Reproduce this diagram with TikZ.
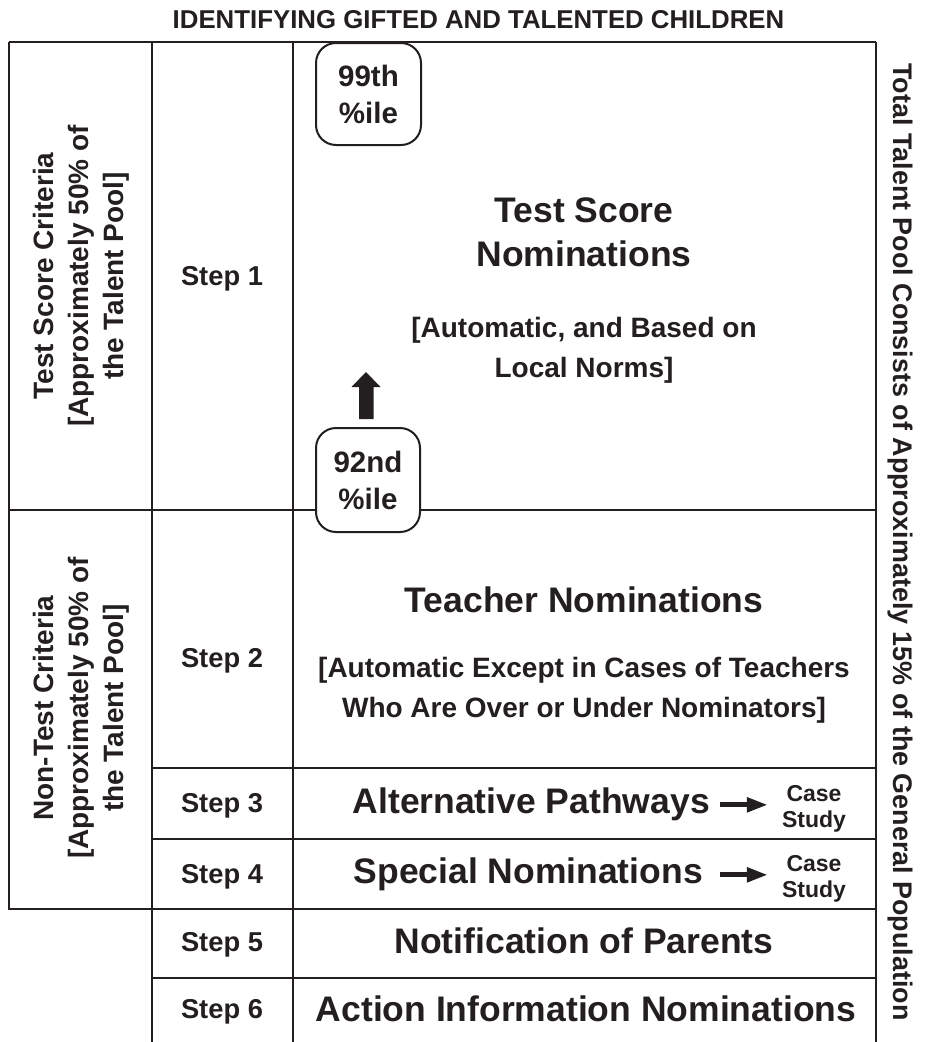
\documentclass[tikz,border=0pt]{standalone}
\usepackage{fontspec}
\setmainfont{Liberation Sans}
\usetikzlibrary{arrows.meta}
\definecolor{ink}{RGB}{35,31,32}
\begin{document}
\begin{tikzpicture}[x=1pt,y=-1pt,
  gridline/.style={draw=ink,line width=2.2pt},
  txt/.style={inner sep=0pt,text=ink},
  titlef/.style={txt,font=\fontsize{25.8}{30}\selectfont\bfseries},
  sidef/.style={txt,align=center,font=\fontsize{28}{35}\selectfont\bfseries},
  stepf/.style={txt,font=\fontsize{27.3}{32}\selectfont\bfseries},
  bigf/.style={txt,align=center,font=\fontsize{35.5}{44}\selectfont\bfseries},
  medf/.style={txt,align=center,font=\fontsize{28}{40}\selectfont\bfseries},
  casef/.style={txt,align=center,font=\fontsize{23}{26}\selectfont\bfseries},
  pctbox/.style={draw=ink,line width=2pt,fill=white,rounded corners=20pt,
    minimum width=105pt,minimum height=102pt,inner sep=0pt,align=center,
    text=ink,font=\fontsize{29.5}{37}\selectfont\bfseries},
  harrow/.style={draw=ink,line width=5pt,-{Triangle[length=21pt,width=14pt]}}
]
\useasboundingbox (0,0) rectangle (933,1042);
\fill[white] (0,0) rectangle (933,1042);

% title
\node[titlef,anchor=base] (title) at (478.5,28.3) {IDENTIFYING GIFTED AND TALENTED CHILDREN};

% grid lines
\draw[gridline] (9,42) -- (876,42);
\draw[gridline] (9,42) -- (9,909) -- (152,909);
\draw[gridline] (152,42) -- (152,1042);
\draw[gridline] (293,42) -- (293,1042);
\draw[gridline] (876,42) -- (876,1042);
\draw[gridline] (9,510) -- (876,510);
\draw[gridline] (152,768) -- (876,768);
\draw[gridline] (152,839) -- (876,839);
\draw[gridline] (152,909) -- (876,909);
\draw[gridline] (152,978) -- (876,978);

% left column
\node[sidef,rotate=90] (tsc) at (81,276) {Test Score Criteria\\{[}Approximately 50\% of\\the Talent Pool]};
\node[sidef,rotate=90] (ntc) at (81,708) {Non-Test Criteria\\{[}Approximately 50\% of\\the Talent Pool]};

% step column
\node[stepf,anchor=base] (s1) at (222,285) {Step 1};
\node[stepf,anchor=base] (s2) at (222,667) {Step 2};
\node[stepf,anchor=base] (s3) at (222,812) {Step 3};
\node[stepf,anchor=base] (s4) at (222,883) {Step 4};
\node[stepf,anchor=base] (s5) at (222,951) {Step 5};
\node[stepf,anchor=base] (s6) at (222,1018) {Step 6};

% main column
\node[bigf] (tsn) at (584,232) {Test Score\\Nominations};
\node[medf] (norms) at (584,350) {[Automatic, and Based on\\Local Norms]};
\node[bigf,anchor=base] (tn) at (584,612) {Teacher Nominations};
\node[medf] (tnx) at (584,690) {[Automatic Except in Cases of Teachers\\Who Are Over or Under Nominators]};
\node[bigf,anchor=base east] (alt) at (710,813) {Alternative Pathways};
\node[casef] (case3) at (814,809) {Case\\Study};
\node[bigf,anchor=base east] (spec) at (703,883) {Special Nominations};
\node[casef] (case4) at (814,879) {Case\\Study};
\node[bigf,anchor=base] (notif) at (584,953) {Notification of Parents};
\node[bigf,anchor=base] (action) at (586,1021) {Action Information Nominations};

\draw[harrow] ([xshift=10pt,yshift=-1pt]alt.east) -- ([xshift=-14pt,yshift=-1pt]alt.east -| case3.west);
\draw[harrow] ([xshift=17pt,yshift=-1pt]spec.east) -- ([xshift=-14pt,yshift=-1pt]spec.east -| case4.west);

% percentile boxes
\node[pctbox] (p99) at (368.5,94) {99th\\\%ile};
\node[pctbox,minimum width=104pt,minimum height=104pt] (p92) at (368,480) {92nd\\\%ile};
\fill[ink] (359,419) -- (373.5,419) -- (373.5,387) -- (380.5,387) -- (366,372)
  -- (351.5,387) -- (359,387) -- cycle;

% right side
\node[txt,rotate=-90,anchor=base,font=\fontsize{26.9}{32}\selectfont\bfseries] (total) at (893,542)
  {Total Talent Pool Consists of Approximately 15\% of the General Population};
\end{tikzpicture}
\end{document}
